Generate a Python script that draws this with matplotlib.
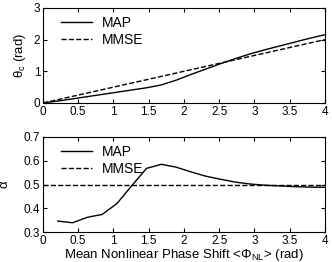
import numpy as np
import matplotlib
matplotlib.use('Agg')
import matplotlib.pyplot as plt

plt.rcParams['font.family'] = ['Liberation Sans', 'DejaVu Sans']
plt.rcParams['font.size'] = 9
plt.rcParams['mathtext.fontset'] = 'custom'
plt.rcParams['mathtext.rm'] = 'Liberation Sans'
plt.rcParams['mathtext.it'] = 'Liberation Sans'

# top panel: theta_c vs mean nonlinear phase shift
phi_top = [0, 0.21, 0.42, 0.63, 0.84, 1.05, 1.26, 1.47, 1.68, 1.89, 2.10,
           2.31, 2.52, 2.73, 2.94, 3.15, 3.36, 3.57, 3.78, 3.99]
theta_map = [0, 0.06, 0.13, 0.20, 0.27, 0.34, 0.41, 0.48, 0.57, 0.72, 0.90,
             1.07, 1.24, 1.40, 1.55, 1.68, 1.80, 1.92, 2.04, 2.15]
phi_mmse = [0, 4]
theta_mmse = [0, 2.0]

# bottom panel: alpha
phi_bot = [0.21, 0.42, 0.63, 0.84, 1.05, 1.26, 1.47, 1.68, 1.89, 2.10,
           2.31, 2.52, 2.73, 2.94, 3.15, 3.36, 3.57, 3.78, 3.99]
alpha_map = [0.346, 0.339, 0.362, 0.374, 0.420, 0.495, 0.568, 0.585, 0.573,
             0.553, 0.535, 0.522, 0.510, 0.502, 0.497, 0.494, 0.491, 0.489, 0.488]
alpha_mmse = 0.498

fig = plt.figure(figsize=(3.32, 2.62), dpi=100)
ax1 = fig.add_axes([0.1295, 0.607, 0.849, 0.3626])
ax2 = fig.add_axes([0.1295, 0.1145, 0.849, 0.3626])

ax1.plot(phi_top, theta_map, 'k-', lw=1.0, label='MAP')
ax1.plot(phi_mmse, theta_mmse, 'k--', lw=1.0, label='MMSE')
ax1.set_ylim(0, 3)
ax1.set_yticks([0, 1, 2, 3])
ax1.set_ylabel(r'$\theta_c$ (rad)', labelpad=4, fontsize=9.5)

ax2.plot(phi_bot, alpha_map, 'k-', lw=1.0, label='MAP')
ax2.axhline(alpha_mmse, color='k', ls='--', lw=1.0, label='MMSE')
ax2.set_ylim(0.3, 0.7)
ax2.set_yticks([0.3, 0.4, 0.5, 0.6, 0.7])
ax2.set_ylabel(r'$\alpha$', labelpad=9, fontsize=9.5)
ax2.set_xlabel(r'Mean Nonlinear Phase Shift <$\Phi_{NL}$> (rad)', labelpad=0, fontsize=9.5)

for ax in (ax1, ax2):
    ax.set_xlim(0, 4)
    ax.set_xticks(np.arange(0, 4.01, 0.5))
    ax.set_xticklabels(['0', '0.5', '1', '1.5', '2', '2.5', '3', '3.5', '4'])
    ax.tick_params(direction='in', top=True, right=True, length=3, pad=2, labelsize=8.5)
    ax.legend(loc='upper left', bbox_to_anchor=(0.035, 1.0), frameon=False,
              handlelength=2.2, handletextpad=0.7, fontsize=10,
              borderaxespad=0.2, labelspacing=0.2)

fig.savefig('out.png', dpi=100)
